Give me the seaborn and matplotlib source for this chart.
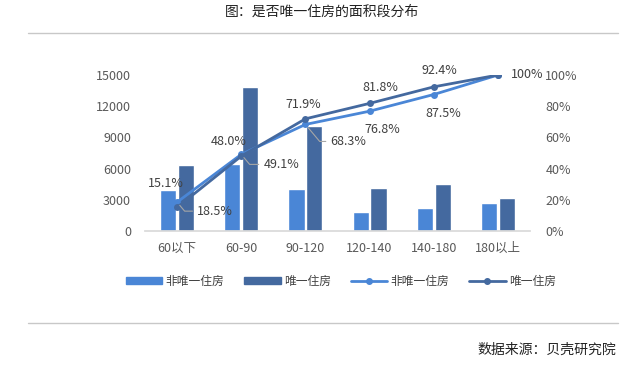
import numpy as np
import pandas as pd
import matplotlib
matplotlib.use("Agg")
import matplotlib.pyplot as plt
import seaborn as sns
from matplotlib.lines import Line2D

sns.set_theme(style="white")
plt.rcParams['font.family'] = ['Noto Sans CJK SC', 'DejaVu Sans']

categories = ['60以下', '60-90', '90-120', '120-140', '140-180', '180以上']
non_only = [3950, 6440, 4040, 1830, 2240, 2690]       # 非唯一住房 counts
only = [6350, 13850, 10100, 4160, 4520, 3200]         # 唯一住房 counts
non_only_cum = [18.5, 49.1, 68.3, 76.8, 87.5, 100.0]  # 非唯一住房 cumulative %
only_cum = [15.1, 48.0, 71.9, 81.8, 92.4, 100.0]      # 唯一住房 cumulative %

LIGHT = '#4a86d6'
DARK = '#44699f'
TXT = '#404040'
TICK = '#595959'

bars = pd.DataFrame({
    'cat': categories * 2,
    'val': non_only + only,
    'type': ['非唯一住房'] * 6 + ['唯一住房'] * 6,
})

fig = plt.figure(figsize=(6.43, 3.67), dpi=100)
ax = fig.add_axes([145 / 643, 1 - 231 / 367, 385 / 643, 156 / 367])

sns.barplot(data=bars, x='cat', y='val', hue='type', palette=[LIGHT, DARK],
            width=0.56, gap=0.1, saturation=1, ax=ax, legend=False)
ax.set_xlim(-0.5, 5.5)
ax.set_ylim(0, 15000)
ax.set_yticks(range(0, 15001, 3000))
ax.set_xlabel('')
ax.set_ylabel('')
for s in ['top', 'right', 'left']:
    ax.spines[s].set_visible(False)
ax.spines['bottom'].set_color('#d9d9d9')
ax.tick_params(axis='y', colors=TICK, labelsize=9, length=0, pad=10)
ax.tick_params(axis='x', colors=TICK, labelsize=9, length=0, pad=8)

ax2 = ax.twinx()
sns.lineplot(x=categories, y=[v / 100 for v in non_only_cum], color=LIGHT, lw=2,
             marker='o', markersize=5, markeredgewidth=0, ax=ax2, sort=False)
sns.lineplot(x=categories, y=[v / 100 for v in only_cum], color=DARK, lw=2,
             marker='o', markersize=5, markeredgewidth=0, ax=ax2, sort=False)
ax2.set_ylim(0, 1)
ax2.set_yticks(np.arange(0, 1.01, 0.2))
ax2.set_yticklabels([f'{int(round(v * 100))}%' for v in np.arange(0, 1.01, 0.2)])
ax2.tick_params(axis='y', colors=TICK, labelsize=9, length=0, pad=11)
for s in ['top', 'right', 'left', 'bottom']:
    ax2.spines[s].set_visible(False)
ax2.grid(False)
ax.grid(False)

# data labels, 唯一住房 above
only_off = [(-11, 24), (-13, 15), (-2, 14), (11, 16), (6, 16)]
for i, (dx, dy) in enumerate(only_off):
    ax2.annotate(f'{only_cum[i]:.1f}%', (i, only_cum[i] / 100), xytext=(dx, dy),
                 textcoords='offset pixels', ha='center', va='center',
                 fontsize=9, color=TXT)
ax2.annotate('100%', (5, 1.0), xytext=(13, 0), textcoords='offset pixels',
             ha='left', va='center', fontsize=9, color=TXT)

# data labels, 非唯一住房 below (first three with leader lines)
non_off = [(38, -9), (40, -10), (43, -17), (13, -18), (10, -19)]
for i, (dx, dy) in enumerate(non_off):
    props = None
    if i < 3:
        props = dict(arrowstyle='-', color='#a6a6a6', lw=0.8,
                     connectionstyle='angle,angleA=0,angleB=-50,rad=0',
                     shrinkA=1, shrinkB=3)
    ax2.annotate(f'{non_only_cum[i]:.1f}%', (i, non_only_cum[i] / 100), xytext=(dx, dy),
                 textcoords='offset pixels', ha='center', va='center',
                 fontsize=9, color=TXT, arrowprops=props)

handles = [
    plt.Rectangle((0, 0), 1, 1, color=LIGHT),
    plt.Rectangle((0, 0), 1, 1, color=DARK),
    Line2D([], [], color=LIGHT, lw=2, marker='o', markersize=4),
    Line2D([], [], color=DARK, lw=2, marker='o', markersize=4),
]
labels = ['非唯一住房', '唯一住房', '非唯一住房', '唯一住房']
fig.legend(handles, labels, loc='center', bbox_to_anchor=(0.53, 1 - 281 / 367),
           ncol=4, frameon=False, fontsize=8.5, handlelength=3.1, handleheight=0.6,
           columnspacing=1.7, handletextpad=0.25, labelcolor=TXT)

fig.text(0.5, 1 - 12 / 367, '图：是否唯一住房的面积段分布', ha='center', va='center',
         fontsize=10, color='#222222')
fig.add_artist(Line2D([28 / 643, 618 / 643], [1 - 33 / 367] * 2, color='#c8c8c8', lw=1))
fig.add_artist(Line2D([28 / 643, 618 / 643], [1 - 323 / 367] * 2, color='#c8c8c8', lw=1))
fig.text(616 / 643, 1 - 350 / 367, '数据来源：贝壳研究院', ha='right', va='center',
         fontsize=10, color='#222222')

fig.savefig('out.png', dpi=100)
